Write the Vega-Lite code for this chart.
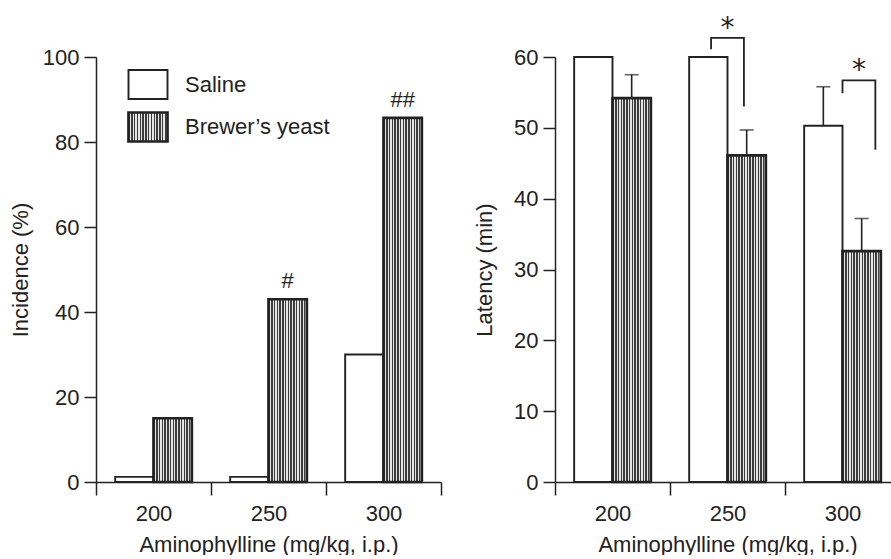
{
  "$schema": "https://vega.github.io/schema/vega-lite/v6.json",
  "background": "white",
  "padding": {"left": 9, "top": 14, "right": 0, "bottom": 0},
  "bounds": "flush",
  "spacing": 114,
  "config": {
    "view": {"stroke": null},
    "axis": {
      "grid": false,
      "domainColor": "#222",
      "domainWidth": 1.5,
      "tickColor": "#222",
      "tickWidth": 1.5,
      "tickSize": 12,
      "labelFont": "Liberation Sans",
      "labelFontSize": 22,
      "labelColor": "#222",
      "labelPadding": 5,
      "titleFont": "Liberation Sans",
      "titleFontSize": 22,
      "titleFontWeight": "normal",
      "titleColor": "#222"
    }
  },
  "datasets": {
    "incidence": [
      {"dose": "200", "group": "Saline", "incidence": 1.2, "sig": ""},
      {"dose": "200", "group": "Brewer’s yeast", "incidence": 15, "sig": ""},
      {"dose": "250", "group": "Saline", "incidence": 1.2, "sig": ""},
      {"dose": "250", "group": "Brewer’s yeast", "incidence": 43, "sig": "#"},
      {"dose": "300", "group": "Saline", "incidence": 30, "sig": ""},
      {"dose": "300", "group": "Brewer’s yeast", "incidence": 85.7, "sig": "##"}
    ],
    "latency": [
      {"dose": "200", "group": "Saline", "latency": 60, "upper": null},
      {"dose": "200", "group": "Brewer’s yeast", "latency": 54.2, "upper": 57.5},
      {"dose": "250", "group": "Saline", "latency": 60, "upper": null},
      {"dose": "250", "group": "Brewer’s yeast", "latency": 46.1, "upper": 49.7},
      {"dose": "300", "group": "Saline", "latency": 50.3, "upper": 55.8},
      {"dose": "300", "group": "Brewer’s yeast", "latency": 32.6, "upper": 37.2}
    ],
    "brackets": [
      {"dose": "250", "slot": 2, "y": 61.1, "seq": 1, "star": ""},
      {"dose": "250", "slot": 2, "y": 62.7, "seq": 2, "star": ""},
      {"dose": "250", "slot": 4, "y": 62.7, "seq": 3, "star": ""},
      {"dose": "250", "slot": 4, "y": 53.0, "seq": 4, "star": ""},
      {"dose": "250", "slot": 3, "y": 62.7, "seq": 0, "star": "*"},
      {"dose": "300", "slot": 3, "y": 54.9, "seq": 1, "star": ""},
      {"dose": "300", "slot": 3, "y": 56.7, "seq": 2, "star": ""},
      {"dose": "300", "slot": 5, "y": 56.7, "seq": 3, "star": ""},
      {"dose": "300", "slot": 5, "y": 46.9, "seq": 4, "star": ""},
      {"dose": "300", "slot": 4, "y": 56.7, "seq": 0, "star": "*"}
    ]
  },
  "hconcat": [
    {
      "width": 345,
      "height": 425,
      "data": {"name": "incidence"},
      "layer": [
        {
          "mark": {"type": "bar", "stroke": "#222"},
          "encoding": {
            "x": {"field": "dose", "type": "nominal", "scale": {"paddingInner": 0, "paddingOuter": 0},
              "axis": {"title": "Aminophylline (mg/kg, i.p.)", "labelAngle": 0, "tickBand": "extent", "tickSize": 13, "labelPadding": 8, "titlePadding": 10}},
            "xOffset": {"field": "group", "type": "nominal", "scale": {"domain": ["Saline", "Brewer’s yeast"], "paddingInner": 0, "paddingOuter": 0.5}},
            "y": {"field": "incidence", "type": "quantitative", "scale": {"domain": [0, 100]},
              "axis": {"title": "Incidence (%)", "values": [0, 20, 40, 60, 80, 100], "titlePadding": 10}},
            "strokeWidth": {"field": "group", "type": "nominal", "scale": {"domain": ["Saline", "Brewer’s yeast"], "range": [1.9, 2.7]}, "legend": null},
            "fill": {
              "field": "group", "type": "nominal",
              "scale": {"domain": ["Saline", "Brewer’s yeast"], "range": ["white", {"expr": "{gradient:'linear',x1:0,y1:0,x2:1,y2:0,stops:[{offset:0,color:'#3c3c3c'},{offset:0.0357,color:'#3c3c3c'},{offset:0.0357,color:'#e6e6e6'},{offset:0.0714,color:'#e6e6e6'},{offset:0.0714,color:'#3c3c3c'},{offset:0.1071,color:'#3c3c3c'},{offset:0.1071,color:'#e6e6e6'},{offset:0.1429,color:'#e6e6e6'},{offset:0.1429,color:'#3c3c3c'},{offset:0.1786,color:'#3c3c3c'},{offset:0.1786,color:'#e6e6e6'},{offset:0.2143,color:'#e6e6e6'},{offset:0.2143,color:'#3c3c3c'},{offset:0.25,color:'#3c3c3c'},{offset:0.25,color:'#e6e6e6'},{offset:0.2857,color:'#e6e6e6'},{offset:0.2857,color:'#3c3c3c'},{offset:0.3214,color:'#3c3c3c'},{offset:0.3214,color:'#e6e6e6'},{offset:0.3571,color:'#e6e6e6'},{offset:0.3571,color:'#3c3c3c'},{offset:0.3929,color:'#3c3c3c'},{offset:0.3929,color:'#e6e6e6'},{offset:0.4286,color:'#e6e6e6'},{offset:0.4286,color:'#3c3c3c'},{offset:0.4643,color:'#3c3c3c'},{offset:0.4643,color:'#e6e6e6'},{offset:0.5,color:'#e6e6e6'},{offset:0.5,color:'#3c3c3c'},{offset:0.5357,color:'#3c3c3c'},{offset:0.5357,color:'#e6e6e6'},{offset:0.5714,color:'#e6e6e6'},{offset:0.5714,color:'#3c3c3c'},{offset:0.6071,color:'#3c3c3c'},{offset:0.6071,color:'#e6e6e6'},{offset:0.6429,color:'#e6e6e6'},{offset:0.6429,color:'#3c3c3c'},{offset:0.6786,color:'#3c3c3c'},{offset:0.6786,color:'#e6e6e6'},{offset:0.7143,color:'#e6e6e6'},{offset:0.7143,color:'#3c3c3c'},{offset:0.75,color:'#3c3c3c'},{offset:0.75,color:'#e6e6e6'},{offset:0.7857,color:'#e6e6e6'},{offset:0.7857,color:'#3c3c3c'},{offset:0.8214,color:'#3c3c3c'},{offset:0.8214,color:'#e6e6e6'},{offset:0.8571,color:'#e6e6e6'},{offset:0.8571,color:'#3c3c3c'},{offset:0.8929,color:'#3c3c3c'},{offset:0.8929,color:'#e6e6e6'},{offset:0.9286,color:'#e6e6e6'},{offset:0.9286,color:'#3c3c3c'},{offset:0.9643,color:'#3c3c3c'},{offset:0.9643,color:'#e6e6e6'},{offset:1,color:'#e6e6e6'}]}"}]},
              "legend": {
                "title": null, "orient": "none", "legendX": 36, "legendY": 12, "padding": 0,
                "symbolType": "M-1.345,-1L1.345,-1L1.345,1L-1.345,1Z", "symbolSize": 841,
                "symbolStrokeColor": "#222", "symbolStrokeWidth": 2.2,
                "labelFont": "Liberation Sans", "labelFontSize": 22, "labelColor": "#222", "labelOffset": 21, "rowPadding": 4
              }
            }
          }
        },
        {
          "transform": [{"filter": "datum.sig != ''"}],
          "mark": {"type": "text", "font": "Liberation Sans", "fontSize": 22, "color": "#222", "baseline": "alphabetic", "dy": -11},
          "encoding": {
            "x": {"field": "dose", "type": "nominal"},
            "xOffset": {"field": "group", "type": "nominal"},
            "y": {"field": "incidence", "type": "quantitative", "scale": {"domain": [0, 100]}, "title": "Incidence (%)"},
            "text": {"field": "sig"}
          }
        }
      ]
    },
    {
      "width": 345,
      "height": 425,
      "resolve": {"scale": {"xOffset": "independent"}},
      "layer": [
        {
          "data": {"name": "latency"},
          "mark": {"type": "bar", "stroke": "#222"},
          "encoding": {
            "x": {"field": "dose", "type": "nominal", "scale": {"paddingInner": 0, "paddingOuter": 0},
              "axis": {"title": "Aminophylline (mg/kg, i.p.)", "labelAngle": 0, "tickBand": "extent", "tickSize": 13, "labelPadding": 8, "titlePadding": 10}},
            "xOffset": {"field": "group", "type": "nominal", "scale": {"domain": ["Saline", "Brewer’s yeast"], "paddingInner": 0, "paddingOuter": 0.5}},
            "y": {"field": "latency", "type": "quantitative", "scale": {"domain": [0, 60]},
              "axis": {"title": "Latency (min)", "values": [0, 10, 20, 30, 40, 50, 60], "titlePadding": 17}},
            "strokeWidth": {"field": "group", "type": "nominal", "legend": null},
            "fill": {"field": "group", "type": "nominal"}
          }
        },
        {
          "data": {"name": "latency"},
          "transform": [{"filter": "datum.upper != null"}],
          "mark": {"type": "rule", "color": "#222", "strokeWidth": 1.6},
          "encoding": {
            "x": {"field": "dose", "type": "nominal"},
            "xOffset": {"field": "group", "type": "nominal", "scale": {"domain": ["Saline", "Brewer’s yeast"], "paddingInner": 0, "paddingOuter": 0.5}},
            "y": {"field": "latency", "type": "quantitative", "scale": {"domain": [0, 60]}, "title": "Latency (min)"},
            "y2": {"field": "upper"}
          }
        },
        {
          "data": {"name": "latency"},
          "transform": [{"filter": "datum.upper != null"}],
          "mark": {"type": "tick", "color": "#222", "size": 14, "thickness": 1.6, "orient": "horizontal"},
          "encoding": {
            "x": {"field": "dose", "type": "nominal"},
            "xOffset": {"field": "group", "type": "nominal", "scale": {"domain": ["Saline", "Brewer’s yeast"], "paddingInner": 0, "paddingOuter": 0.5}},
            "y": {"field": "upper", "type": "quantitative", "scale": {"domain": [0, 60]}, "title": "Latency (min)"}
          }
        },
        {
          "data": {"name": "brackets"},
          "transform": [{"filter": "datum.star == ''"}],
          "mark": {"type": "line", "color": "#222", "strokeWidth": 1.8},
          "encoding": {
            "x": {"field": "dose", "type": "nominal"},
            "xOffset": {"field": "slot", "type": "ordinal", "scale": {"domain": [0, 1, 2, 3, 4, 5, 6], "paddingInner": 0, "paddingOuter": 0.5}},
            "y": {"field": "y", "type": "quantitative", "scale": {"domain": [0, 60]}, "title": "Latency (min)"},
            "detail": {"field": "dose"},
            "order": {"field": "seq", "type": "quantitative"}
          }
        },
        {
          "data": {"name": "brackets"},
          "transform": [{"filter": "datum.star != ''"}],
          "mark": {"type": "text", "font": "DejaVu Sans", "fontSize": 28, "color": "#222", "baseline": "alphabetic", "dy": -1},
          "encoding": {
            "x": {"field": "dose", "type": "nominal"},
            "xOffset": {"field": "slot", "type": "ordinal", "scale": {"domain": [0, 1, 2, 3, 4, 5, 6], "paddingInner": 0, "paddingOuter": 0.5}},
            "y": {"field": "y", "type": "quantitative", "scale": {"domain": [0, 60]}, "title": "Latency (min)"},
            "text": {"field": "star"}
          }
        }
      ]
    }
  ]
}
